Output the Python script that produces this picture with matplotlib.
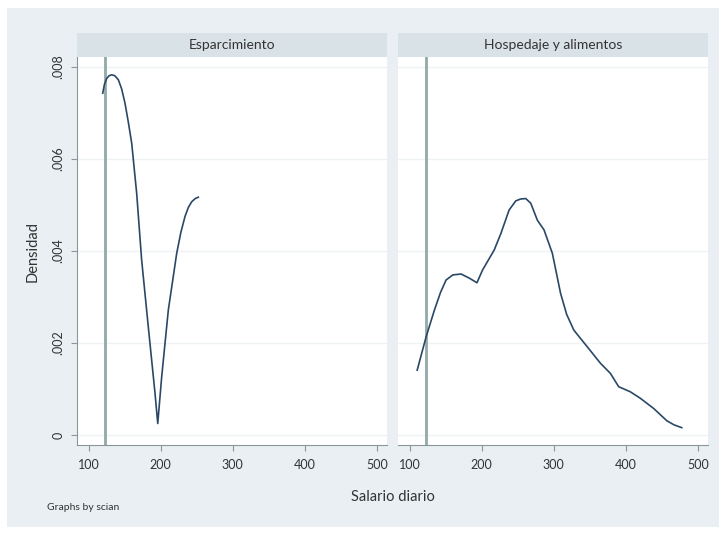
import matplotlib
matplotlib.use("Agg")
import matplotlib.pyplot as plt
from matplotlib.patches import Rectangle

plt.rcParams['font.family'] = ['Lato', 'DejaVu Sans']

# ---- data ----
panels = ["Esparcimiento", "Hospedaje y alimentos"]
xline_value = 123

esp_x = [119.7, 122.0, 125.2, 128.5, 132.2, 136.5, 141.4, 146.0, 150.6, 155.0,
         159.9, 166.8, 173.7, 182.9, 192.2, 196.0, 201.5, 210.7, 222.3, 228.0,
         233.8, 238.5, 243.1, 248.0, 252.3]
esp_y = [0.00743, 0.00762, 0.00775, 0.00781, 0.00783, 0.00781, 0.00772, 0.00752,
         0.00721, 0.00682, 0.00634, 0.00525, 0.00380, 0.00235, 0.00091, 0.00025,
         0.00127, 0.00272, 0.00395, 0.00440, 0.00475, 0.00495, 0.00507, 0.00514,
         0.00517]

hos_x = [110.6, 123.1, 134.6, 143.0, 150.7, 160.0, 171.4, 182.9, 193.5, 201.4,
         217.4, 226.7, 238.1, 247.4, 254.0, 261.2, 268.1, 277.3, 286.5, 298.1,
         309.5, 318.0, 327.9, 346.4, 364.8, 378.6, 390.1, 406.2, 420.0, 438.4,
         456.9, 467.0, 477.6]
hos_y = [0.00141, 0.00214, 0.00272, 0.00310, 0.00337, 0.00348, 0.00350, 0.00341,
         0.00331, 0.00359, 0.00402, 0.00438, 0.00489, 0.00509, 0.00513, 0.00514,
         0.00504, 0.00467, 0.00446, 0.00395, 0.00308, 0.00262, 0.00228, 0.00192,
         0.00156, 0.00134, 0.00105, 0.00094, 0.00080, 0.00058, 0.00031, 0.00022,
         0.00016]

x_ticks = [100, 200, 300, 400, 500]
y_ticks = [0, 0.002, 0.004, 0.006, 0.008]
y_ticklabels = ["0", ".002", ".004", ".006", ".008"]

# ---- style ----
W, H = 726, 535
bg = "#e9eff2"
strip_col = "#d9e3e7"
line_col = "#2a4866"
vline_col = "#93a8a8"
axis_col = "#8a9699"
text_col = "#333333"

fig = plt.figure(figsize=(W / 100, H / 100), dpi=100)
fig.patch.set_facecolor("white")
fig.add_artist(Rectangle((7 / W, 8 / H), (W - 14) / W, (H - 16) / H,
                         transform=fig.transFigure, facecolor=bg,
                         edgecolor="none", zorder=0))

def fx(px):
    return px / W

def fy(py):
    return 1 - py / H

ax_top, ax_bot = 57, 445
lefts = [77, 398]
pw = 310
datasets = [(esp_x, esp_y), (hos_x, hos_y)]

for i, (name, (xs, ys)) in enumerate(zip(panels, datasets)):
    left = lefts[i]
    ax = fig.add_axes([fx(left), fy(ax_bot), pw / W, (ax_bot - ax_top) / H])
    ax.set_facecolor("white")
    ax.set_xlim(84, 514)
    ax.set_ylim(-0.000217, 0.008217)
    for y in y_ticks:
        ax.axhline(y, color="#eef2f4", lw=1.0, zorder=1)
    ax.axvline(xline_value, color=vline_col, lw=2.0, zorder=2)
    ax.plot(xs, ys, color=line_col, lw=1.2, zorder=3, solid_joinstyle="round")
    ax.set_xticks(x_ticks)
    ax.set_xticklabels([str(t) for t in x_ticks], fontsize=9, color=text_col)
    ax.tick_params(axis="x", length=4, color=axis_col, pad=6)
    for s in ["top", "right"]:
        ax.spines[s].set_visible(False)
    ax.spines["bottom"].set_color(axis_col)
    if i == 0:
        ax.set_yticks(y_ticks)
        ax.set_yticklabels(y_ticklabels, fontsize=9, color=text_col,
                           rotation=90, va="center")
        ax.tick_params(axis="y", length=4, color=axis_col, pad=5)
        ax.spines["left"].set_color(axis_col)
    else:
        ax.set_yticks([])
        ax.spines["left"].set_visible(False)
    # strip header
    fig.add_artist(Rectangle((fx(left), fy(ax_top)), pw / W, 24 / H,
                             transform=fig.transFigure, facecolor=strip_col,
                             edgecolor="none", zorder=1))
    fig.text(fx(left + pw / 2), fy(45), name, ha="center", va="center",
             fontsize=10, color=text_col)

fig.text(fx(33), fy(251), "Densidad", rotation=90, ha="center", va="center",
         fontsize=10.5, color=text_col)
fig.text(fx(393), fy(497), "Salario diario", ha="center", va="center",
         fontsize=10.5, color=text_col)
fig.text(fx(47), fy(508), "Graphs by scian", ha="left", va="center",
         fontsize=7.5, color=text_col)

fig.savefig("out.png", dpi=100, facecolor=fig.get_facecolor())
